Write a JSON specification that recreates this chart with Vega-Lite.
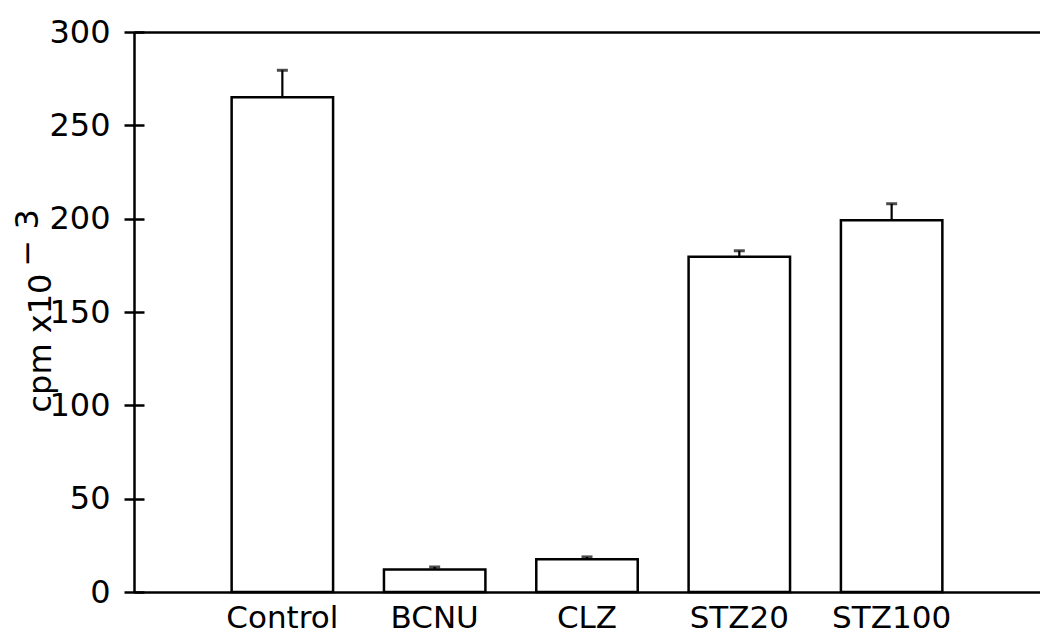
{
  "$schema": "https://vega.github.io/schema/vega-lite/v6.json",
  "width": 906,
  "height": 560,
  "autosize": {"type": "none"},
  "padding": {"left": 134, "top": 32, "right": 0, "bottom": 43},
  "background": "white",
  "config": {"view": {"stroke": null}, "font": "DejaVu Sans"},
  "data": {
    "values": [
      {"group": "Control", "mean": 265, "upper": 279.5},
      {"group": "BCNU", "mean": 12, "upper": 13.4},
      {"group": "CLZ", "mean": 17.5, "upper": 18.8},
      {"group": "STZ20", "mean": 179.6, "upper": 182.8},
      {"group": "STZ100", "mean": 199.2, "upper": 208}
    ]
  },
  "layer": [
    {
      "mark": {"type": "bar", "fill": "white", "stroke": "black", "strokeWidth": 2.5},
      "encoding": {
        "x": {
          "field": "group", "type": "nominal", "sort": null,
          "scale": {"paddingInner": 0.334, "paddingOuter": 0.641},
          "axis": {
            "orient": "bottom", "title": null, "ticks": false, "domain": true,
            "domainColor": "black", "domainWidth": 2.5, "labelAngle": 0,
            "labelFont": "DejaVu Sans", "labelFontSize": 31, "labelColor": "black",
            "labelPadding": 11
          }
        },
        "y": {
          "field": "mean", "type": "quantitative",
          "scale": {"domain": [0, 300], "nice": false},
          "axis": {
            "orient": "left", "offset": -10, "values": [0, 50, 100, 150, 200, 250, 300], "grid": false,
            "domain": false,
            "ticks": true, "tickSize": 20, "tickWidth": 2.5, "tickColor": "black",
            "labelFont": "DejaVu Sans", "labelFontSize": 32, "labelColor": "black", "labelPadding": 14,
            "title": "cpm x10", "titleFont": "DejaVu Sans", "titleFontSize": 32, "titleFontWeight": "normal",
            "titleColor": "black", "titleAngle": 270, "titleAlign": "left", "titleBaseline": "alphabetic",
            "titleX": -94, "titleY": 380
          }
        }
      }
    },
    {
      "mark": {"type": "rule", "stroke": "black", "strokeWidth": 2.2},
      "encoding": {
        "x": {
          "field": "group", "type": "nominal", "sort": null,
          "scale": {"paddingInner": 0.334, "paddingOuter": 0.641},
          "axis": {
            "orient": "top", "title": null, "ticks": false, "labels": false, "domain": true,
            "domainColor": "black", "domainWidth": 2.5
          }
        },
        "y": {
          "field": "mean", "type": "quantitative",
          "scale": {"domain": [0, 300], "nice": false},
          "axis": {
            "orient": "left", "offset": 0, "values": [0, 50, 100, 150, 200, 250, 300], "grid": false,
            "domain": true, "domainColor": "black", "domainWidth": 2.5, "labels": false, "ticks": false,
            "title": "− 3", "titleFont": "DejaVu Sans", "titleFontSize": 32, "titleFontWeight": "normal",
            "titleColor": "black", "titleAngle": 270, "titleAlign": "left", "titleBaseline": "alphabetic",
            "titleX": -97, "titleY": 234
          }
        },
        "y2": {"field": "upper"}
      }
    },
    {
      "mark": {"type": "tick", "orient": "horizontal", "color": "black", "size": 11, "thickness": 3},
      "encoding": {
        "x": {
          "field": "group", "type": "nominal", "sort": null,
          "scale": {"paddingInner": 0.334, "paddingOuter": 0.641},
          "axis": null
        },
        "y": {
          "field": "upper", "type": "quantitative",
          "scale": {"domain": [0, 300], "nice": false},
          "axis": null
        }
      }
    }
  ],
  "resolve": {"axis": {"x": "independent", "y": "independent"}}
}
